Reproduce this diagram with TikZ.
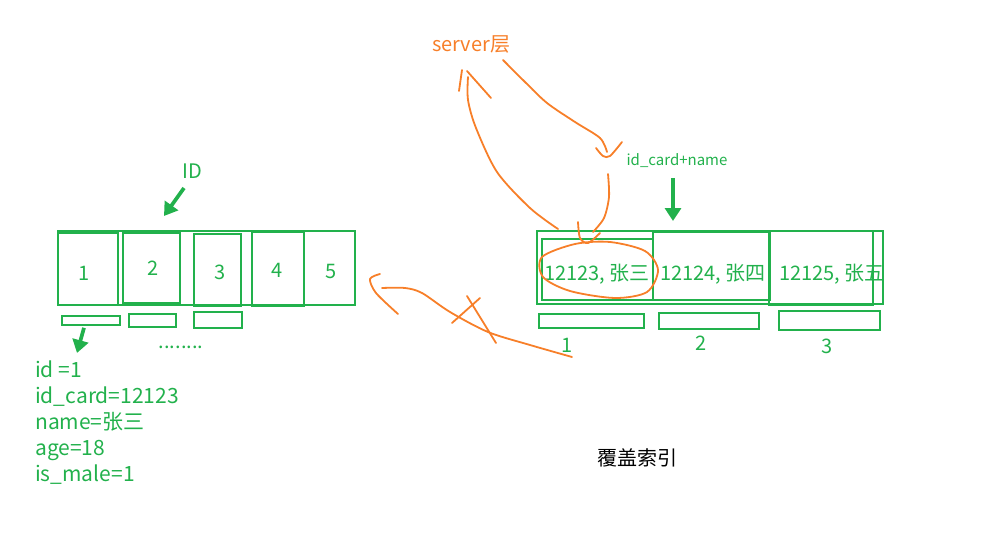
\documentclass[tikz,border=0pt]{standalone}
\usepackage{fontspec}
\setmainfont{Noto Sans CJK SC}
\usepackage{tikz}
\usetikzlibrary{arrows.meta, positioning}
\definecolor{lgreen}{RGB}{34,177,76}
\definecolor{pen}{RGB}{247,127,41}
\tikzset{>=stealth}
\tikzset{
  cell/.style={draw=lgreen, line width=1.6pt, rectangle, inner sep=0pt},
  thickcell/.style={cell, line width=2.6pt},
  txt/.style={text=lgreen, font=\fontsize{20}{24}\selectfont, inner sep=0pt},
  stroke/.style={draw=pen, line width=1.8pt, line cap=round, line join=round},
  fat/.style={draw=lgreen, line width=3.7pt, -{Triangle[width=16pt,length=13pt]}}
}
\begin{document}
\begin{tikzpicture}[x=1pt, y=-1pt]
    \useasboundingbox (0,0) rectangle (987,556);

    % left: rows by ID
    \node (L) [cell, minimum width=297, minimum height=74] at (206.5,268) {};
    \node (L1) [thickcell, minimum width=60, minimum height=72] at (88,269) {};
    \node (L2) [cell, minimum width=57, minimum height=70] at (151.5,268) {};
    \node (L3) [cell, minimum width=47, minimum height=72] at (217.5,270) {};
    \node (L4) [thickcell, minimum width=52, minimum height=74] at (278,269) {};
    \node [txt] at (84,273) {1};
    \node [txt] at (153,268) {2};
    \node [txt] at (220,272) {3};
    \node [txt] at (277,270) {4};
    \node [txt] at (331,271) {5};
    \node (P1) [cell, minimum width=58, minimum height=9] at (91,320.5) {};
    \node (P2) [cell, minimum width=47, minimum height=13] at (152.5,320.5) {};
    \node (P3) [cell, minimum width=48, minimum height=16] at (218,320) {};
    \node (dots) [txt] at (181,347) {........};
    \node (ID) [txt] at (192,171) {ID};
    \coordinate (IDtip) at (164,216);
    \draw [fat] (ID) ++(-8,17) -- (IDtip);
    \node (row) [txt, anchor=north west, align=left, font=\fontsize{21}{26}\selectfont] at (35,361)
        {id =1\\id\_card=12123\\name=张三\\age=18\\is\_male=1};
    \coordinate (rowtip) at (77,353);
    \draw [fat] (P1.south) ++(-7,2) -- (rowtip);

    % right: index on id_card+name
    \node (R) [cell, minimum width=346, minimum height=73] at (710,267.5) {};
    \node (R1) [cell, minimum width=111, minimum height=61] at (597.5,269.5) {};
    \node (R2) [cell, minimum width=117, minimum height=68] at (711.5,266) {};
    \node (R3) [thickcell, minimum width=104, minimum height=74] at (821,268) {};
    \node (k1) [txt] at (597,274) {12123, 张三};
    \node (k2) [txt] at (713,274) {12124, 张四};
    \node (k3) [txt] at (832,274) {12125, 张五};
    \node (Q1) [cell, minimum width=105, minimum height=14] at (591.5,321) {};
    \node (Q2) [cell, minimum width=100, minimum height=16] at (709,321) {};
    \node (Q3) [cell, minimum width=101, minimum height=19] at (829.5,320.5) {};
    \node [txt] at (567,345) {1};
    \node [txt] at (701,343) {2};
    \node [txt] at (827,346) {3};
    \node (key) [txt, font=\fontsize{15}{17}\selectfont] at (677,161) {id\_card+name};
    \coordinate (keytip) at (673,221);
    \draw [fat] (key) ++(-4,17) -- (keytip);
    \node (cap) [font=\fontsize{20}{24}\selectfont, inner sep=0pt] at (637,458) {覆盖索引};

    % server
    \node (server) [txt, text=pen] at (471,44) {server层};
    \draw [stroke] plot [smooth] coordinates {(558,229) (530,208) (497,172) (476,128) (468,100) (468,77)};
    \draw [stroke] (462,70) -- (459,91);
    \draw [stroke] (467,71) -- (491,98);
    \draw [stroke] plot [smooth] coordinates {(503,60) (525,82) (547,103) (575,122) (600,138) (607,152)};
    \draw [stroke] plot [smooth] coordinates {(596,148) (603,156) (610,156) (622,142)};
    \draw [stroke] plot [smooth] coordinates {(608,174) (609,197) (604,218) (593,232)};
    \draw [stroke] plot [smooth] coordinates {(578,222) (580,238) (588,243) (600,233)};
    \draw [stroke] plot [smooth cycle] coordinates {(575,244) (610,242) (645,251) (658,270) (647,292) (615,298) (570,291) (543,277) (542,257)};
    \draw [stroke] plot [smooth] coordinates {(572,357) (530,345) (488,332) (450,312) (422,293) (405,288) (382,288)};
    \draw [stroke] plot [smooth] coordinates {(380,274) (370,279) (376,293) (398,314)};
    \draw [stroke] (452,323) -- (480,298);
    \draw [stroke] (467,296) -- (496,343);
\end{tikzpicture}
\end{document}
